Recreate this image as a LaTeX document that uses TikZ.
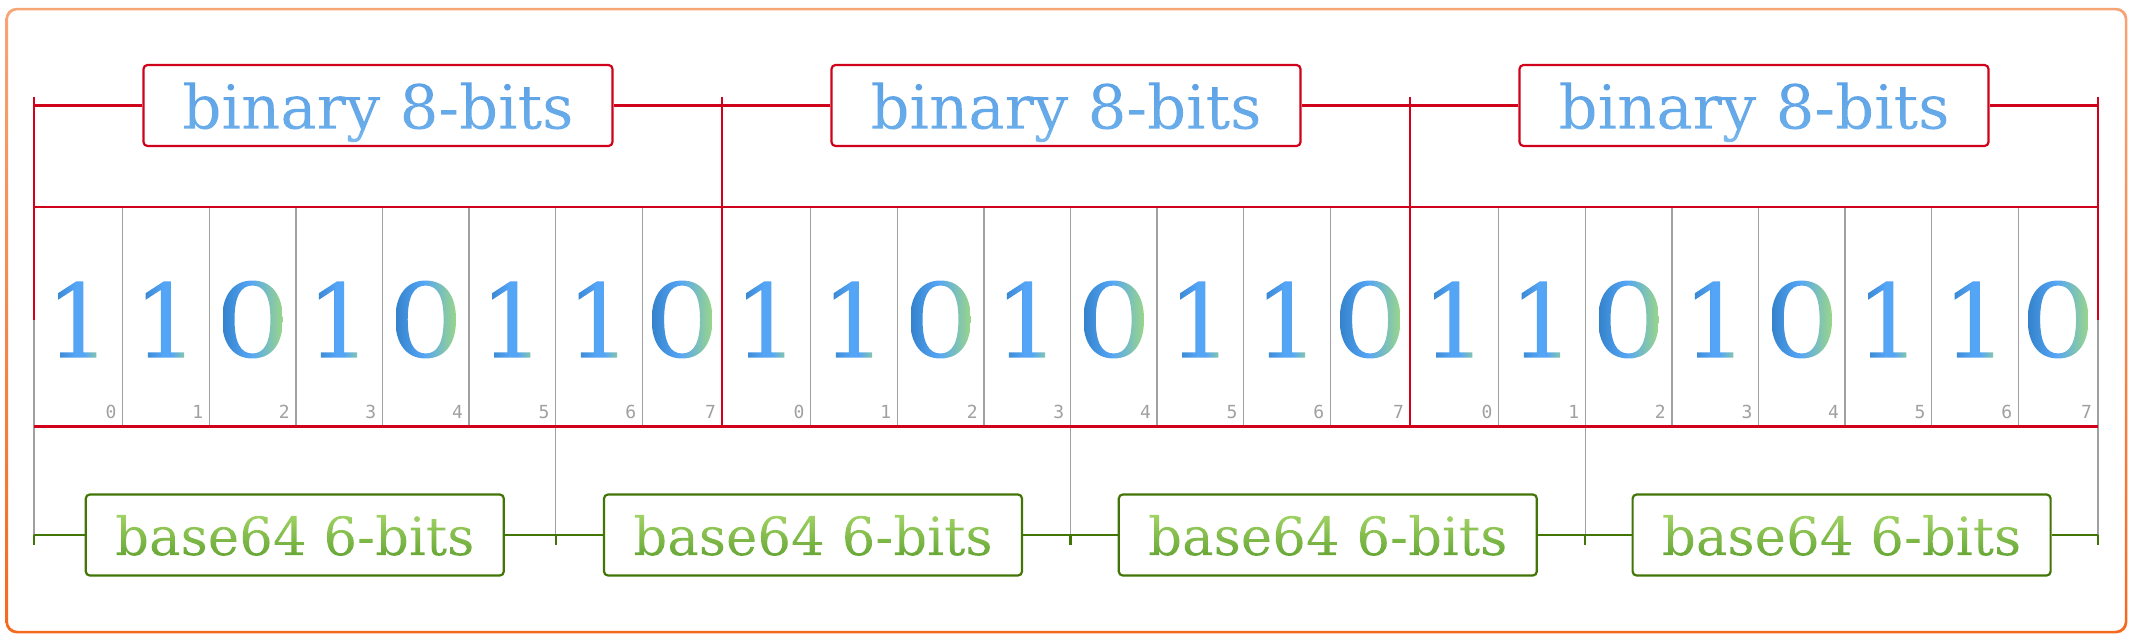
\documentclass[tikz,border=0pt]{standalone}
\usepackage{fontspec}
\usetikzlibrary{calc}
\setmainfont{DejaVu Serif}
\newfontfamily\labfont{DejaVu Serif}
\newfontfamily\idxfont{DejaVu Sans Mono}
\definecolor{rline}{HTML}{D0021B}
\definecolor{gline}{HTML}{417505}
\definecolor{gridgrey}{HTML}{A0A0A0}
\definecolor{bluetext}{HTML}{66AAE9}
\definecolor{greentext}{HTML}{7DB84B}
\definecolor{blueT}{HTML}{5EA3E6}
\definecolor{blueM}{HTML}{6AADEA}
\definecolor{blueL}{HTML}{86C0F2}
\definecolor{greenT}{HTML}{A0D264}
\definecolor{greenB}{HTML}{68A836}
\definecolor{digA}{HTML}{3482CB}
\definecolor{digB}{HTML}{55A5F6}
\definecolor{digC}{HTML}{9AD688}
\definecolor{frameA}{HTML}{F7A477}
\definecolor{frameB}{HTML}{F46A1E}
\newcommand\digitsize{\fontsize{51.5}{52}\selectfont}
\pgfdeclarehorizontalshading{gradone}{44pt}{color(0pt)=(digA); color(11pt)=(digB); color(15pt)=(digB); color(25pt)=(digC)}
\pgfdeclarehorizontalshading{gradzero}{44pt}{color(0pt)=(digA); color(12pt)=(digB); color(26pt)=(digC)}
\pgfdeclareverticalshading{gradblue}{260pt}{color(0pt)=(blueL); color(9pt)=(blueM); color(30pt)=(blueT); color(36pt)=(blueT)}
\pgfdeclareverticalshading{gradgreen}{240pt}{color(0pt)=(greenB); color(9pt)=(greenB); color(29pt)=(greenT); color(36pt)=(greenT)}
\newsavebox\digbox
% glyphs drawn as a clip (text render mode 7), then filled with a shading
\newcommand\gradtext[3]{%
  \sbox\digbox{#1}%
  \special{pdf:literal 0 Tr}\special{pdf:literal direct q 7 Tr}%
  #1%
  \special{pdf:literal 0 Tr}%
  \llap{\smash{\makebox[\wd\digbox][c]{\raisebox{#3}{\pgfuseshading{#2}}}}}%
  \special{pdf:literal 0 Tr}\special{pdf:literal direct Q}}
\begin{document}
\begin{tikzpicture}[x=0.5pt,y=-0.5pt,
  redl/.style={draw=rline, line width=1.1pt},
  greyl/.style={draw=gridgrey, line width=0.7pt},
  greenl/.style={draw=gline, line width=1.1pt},
  bytebox/.style={draw=rline, line width=1.1pt, fill=white, rounded corners=2pt,
    minimum width=234.5pt, minimum height=40.5pt, inner sep=0pt, text depth=0pt,
    text=bluetext, font=\labfont\fontsize{30.5}{31}\selectfont},
  sixbox/.style={draw=gline, line width=1.1pt, fill=white, rounded corners=2pt,
    minimum width=209pt, minimum height=40.5pt, inner sep=0pt, text depth=0pt,
    text=greentext, font=\labfont\fontsize{26.5}{27}\selectfont},
  bitdigit/.style={inner sep=0pt, text=digB, font=\labfont\digitsize},
  bitidx/.style={inner sep=0pt, text=gridgrey, font=\idxfont\fontsize{9}{9}\selectfont},
]
\useasboundingbox (0,0) rectangle (2134,642);
% outer frame
\shade[top color=frameA, bottom color=frameB, even odd rule, rounded corners=5.5pt]
  (5.5,7.8) rectangle (2127.3,633.3) [rounded corners=4.7pt] (8,10.3) rectangle (2124.8,630.8);
% cell boundary coordinates
\foreach \c in {0,...,24}{
  \pgfmathtruncatemacro\k{int(\c/8)}
  \pgfmathtruncatemacro\j{\c-8*\k}
  \pgfmathsetmacro\xx{34+688*\k+(\j>0)*(2+86.6*\j)}
  \coordinate (ct\c) at (\xx,207);
  \coordinate (cb\c) at (\xx,426.5);
  \coordinate (tk\c) at (\xx,97);
  \coordinate (lab\c) at (\xx,105.5);
  \coordinate (mid\c) at (\xx,320);
  \coordinate (gl\c) at (\xx,535);
  \coordinate (gt\c) at (\xx,545);
}
% label boxes
\node[bytebox] (tb0) at ($(lab0)!0.5!(lab8)$) {\gradtext{binary 8-bits}{gradblue}{-9pt}};
\node[bytebox] (tb1) at ($(lab8)!0.5!(lab16)$) {\gradtext{binary 8-bits}{gradblue}{-9pt}};
\node[bytebox] (tb2) at ($(lab16)!0.5!(lab24)$) {\gradtext{binary 8-bits}{gradblue}{-9pt}};
\node[sixbox] (bb0) at ($(gl0)!0.5!(gl6)$) {\gradtext{base64 6-bits}{gradgreen}{-9pt}};
\node[sixbox] (bb1) at ($(gl6)!0.5!(gl12)$) {\gradtext{base64 6-bits}{gradgreen}{-9pt}};
\node[sixbox] (bb2) at ($(gl12)!0.5!(gl18)$) {\gradtext{base64 6-bits}{gradgreen}{-9pt}};
\node[sixbox] (bb3) at ($(gl18)!0.5!(gl24)$) {\gradtext{base64 6-bits}{gradgreen}{-9pt}};
% grey cell dividers
\foreach \c in {1,...,23}{ \draw[greyl] (ct\c) -- (cb\c); }
% grey base64 boundaries
\draw[greyl] (mid0) -- (gl0);
\draw[greyl] (ct6) -- (gl6);
\draw[greyl] (ct12) -- (gl12);
\draw[greyl] (ct18) -- (gl18);
\draw[greyl] (mid24) -- (gl24);
% red byte structure
\draw[redl] (ct0) -- (ct24);
\draw[redl] (cb0) -- (cb24);
\draw[redl] (tk0) -- (mid0);
\draw[redl] (tk8) -- (cb8);
\draw[redl] (tk16) -- (cb16);
\draw[redl] (tk24) -- (mid24);
\draw[redl] (lab0) -- (tb0.west);
\draw[redl] (tb0.east) -- (lab8) -- (tb1.west);
\draw[redl] (tb1.east) -- (lab16) -- (tb2.west);
\draw[redl] (tb2.east) -- (lab24);
% green base64 structure
\draw[greenl] (gl0) -- (bb0.west);
\draw[greenl] (bb0.east) -- (gl6) -- (bb1.west);
\draw[greenl] (bb1.east) -- (gl12) -- (bb2.west);
\draw[greenl] (bb2.east) -- (gl18) -- (bb3.west);
\draw[greenl] (bb3.east) -- (gl24);
\foreach \c in {0,6,12,18,24}{ \draw[greenl] (gl\c) -- (gt\c); }
% digits and indices
\foreach \c in {0,...,23}{
  \pgfmathtruncatemacro\k{int(\c/8)}
  \pgfmathtruncatemacro\j{\c-8*\k}
  \pgfmathtruncatemacro\n{\c+1}
  \pgfmathtruncatemacro\b{{1,1,0,1,0,1,1,0}[\j]}
  \ifnum\b=1
    \node[bitdigit] (d\c) at ($(ct\c)!0.5!(ct\n)+(0,112.5)$) {\gradtext{1}{gradone}{-3pt}};
  \else
    \node[bitdigit] (d\c) at ($(ct\c)!0.5!(ct\n)+(0,112.5)$) {\scalebox{1.17}[1]{\gradtext{0}{gradzero}{-3pt}}};
  \fi
  \node[bitidx] (i\c) at ($(ct\n)+(-11.5,205)$) {\j};
}
\end{tikzpicture}
\end{document}
